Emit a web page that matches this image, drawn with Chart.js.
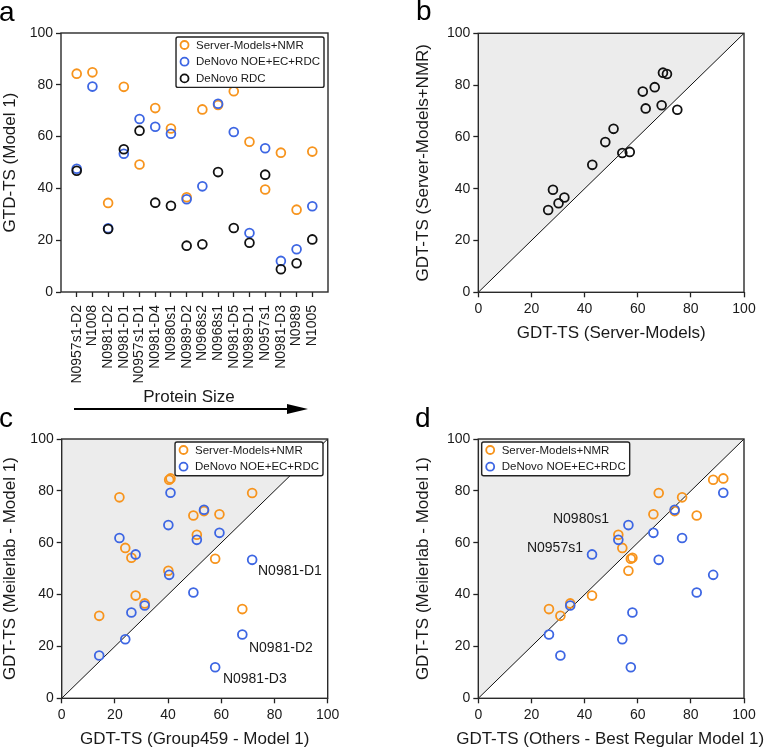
<!DOCTYPE html>
<html>
<head>
<meta charset="utf-8">
<script src="https://cdn.jsdelivr.net/npm/chart.js@4.4.0/dist/chart.umd.min.js"></script>
<style>
html, body { margin: 0; padding: 0; background: #fff; }
body { width: 767px; height: 750px; position: relative; overflow: hidden; }
canvas { position: absolute; }
</style>
</head>
<body>
<canvas id="pa"></canvas>
<canvas id="pb"></canvas>
<canvas id="pc"></canvas>
<canvas id="pd"></canvas>
<script>
// targets, ordered by protein size
const proteins = ['N0957s1-D2', 'N1008', 'N0981-D2', 'N0981-D1', 'N0957s1-D1', 'N0981-D4', 'N0980s1', 'N0989-D2',
                  'N0968s2', 'N0968s1', 'N0981-D5', 'N0989-D1', 'N0957s1', 'N0981-D3', 'N0989', 'N1005'];
// Meilerlab model 1 GDT-TS
const serverNmr  = [84.3, 84.8, 34.4, 79.2, 49.2, 71.0, 63.1, 36.6, 70.5, 72.2, 77.5, 58.0, 39.6, 53.8, 31.8, 54.2];
const denovoFull = [47.6, 79.3, 24.6, 53.4, 66.8, 63.8, 61.1, 35.8, 40.8, 72.7, 61.8, 22.8, 55.5, 12.0, 16.5, 33.1];
const denovoRdc  = [46.8, null, 24.3, 55.1, 62.3, 34.5, 33.3, 17.9, 18.4, 46.3, 24.7, 19.0, 45.3, 8.8, 11.1, 20.3];
// comparison GDT-TS
const serverOnly = [71.0, 69.5, 30.2, 66.4, 42.9, 63.0, 50.9, 32.4, 74.9, 69.0, 61.9, 47.8, 28.1, 54.2, 26.3, 57.0];
const group459   = [40.4, 40.9, 67.9, 71.6, 40.1, 59.3, 50.8, 31.2, 49.5, 53.5, 21.7, 23.9, 27.8, 57.7, 14.1, 26.2];
const othersBest = [88.4, 92.2, 26.6, 67.9, 56.5, 65.9, 52.7, 34.6, 82.2, 73.9, 76.7, 54.2, 42.8, 57.4, 30.9, 58.0];
const gdtTicks = [0, 20, 40, 60, 80, 100];
const parity = [0, 100];

const FONT = "'Liberation Sans', Arial, Helvetica, sans-serif";
const INK = '#1a1a1a';
const ORANGE = '#f7941d', BLUE = '#3d66e3', BLACK = '#111111';
Chart.defaults.font.family = FONT;
Chart.defaults.color = INK;

function fixSize(size, horizontal) {
    return function (s) {
        if (horizontal) s.height = size; else s.width = size;
        s.paddingLeft = s.paddingRight = s.paddingTop = s.paddingBottom = 0;
    };
}

function points(label, color, xs, ys, order) {
    const data = [];
    ys.forEach((v, i) => { if (v !== null) data.push({ x: xs[i], y: v }); });
    return {
        label: label, data: data, order: order,
        borderColor: color, backgroundColor: 'rgba(0,0,0,0)',
        pointRadius: 4.4, pointHoverRadius: 4.4, pointBorderWidth: 1.8
    };
}

function diagonal() {
    return {
        type: 'line', showLine: true, order: 10,
        data: parity.map(v => ({ x: v, y: v })),
        borderColor: '#111', borderWidth: 1, backgroundColor: '#ececec',
        fill: 'end', pointRadius: 0
    };
}

const decor = {
    id: 'decor',
    afterDatasetsDraw(chart, args, o) {
        const { ctx, chartArea: a, scales } = chart;
        ctx.save();
        ctx.strokeStyle = '#2a2a2a';
        ctx.lineWidth = 1.4;
        ctx.strokeRect(a.left, a.top, a.right - a.left, a.bottom - a.top);

        ctx.font = '14px ' + FONT;
        ctx.fillStyle = INK;
        ctx.textAlign = 'left';
        ctx.textBaseline = 'middle';
        (o.notes || []).forEach(n => {
            ctx.fillText(n.text, scales.x.getPixelForValue(n.x), scales.y.getPixelForValue(n.y));
        });

        if (o.box) {
            const items = chart.data.datasets.filter(d => d.label);
            ctx.font = '11.5px ' + FONT;
            const tw = Math.max(...items.map(d => ctx.measureText(d.label).width));
            const w = 20 + tw + 4, h = 8 + 16.7 * (items.length - 1) + 9;
            const x0 = o.box.side === 'right' ? a.right + o.box.dx - w : a.left + o.box.dx;
            const y0 = a.top + o.box.dy;
            ctx.fillStyle = '#fff';
            ctx.strokeStyle = '#222';
            ctx.lineWidth = 1.4;
            ctx.beginPath();
            if (ctx.roundRect) ctx.roundRect(x0, y0, w, h, 2); else ctx.rect(x0, y0, w, h);
            ctx.fill();
            ctx.stroke();
            items.forEach((d, i) => {
                const cy = y0 + 8 + i * 16.7;
                ctx.beginPath();
                ctx.arc(x0 + 8.5, cy, 4, 0, Math.PI * 2);
                ctx.strokeStyle = d.borderColor;
                ctx.lineWidth = 1.8;
                ctx.stroke();
                ctx.fillStyle = INK;
                ctx.fillText(d.label, x0 + 20, cy + 0.5);
            });
        }
        ctx.restore();
    },
    afterDraw(chart, args, o) {
        const ctx = chart.ctx;
        const a = chart.chartArea;
        ctx.save();
        ctx.fillStyle = '#000';
        ctx.textAlign = 'left';
        ctx.textBaseline = 'alphabetic';
        if (o.letter) {
            ctx.font = '28px ' + FONT;
            ctx.fillText(o.letter.text, o.letter.x, o.letter.y);
        }
        if (o.xTitle) {
            // wide title, allowed to run past the plot edges
            ctx.font = '17px ' + FONT;
            ctx.textAlign = 'center';
            ctx.textBaseline = 'middle';
            ctx.fillStyle = INK;
            ctx.fillText(o.xTitle.text, (a.left + a.right) / 2 + o.xTitle.dx, chart.height - 10.2);
        }
        if (o.arrow) {
            const r = o.arrow;
            ctx.font = '17px ' + FONT;
            ctx.textAlign = 'center';
            ctx.textBaseline = 'middle';
            ctx.fillStyle = INK;
            ctx.fillText(r.text, (r.x1 + r.x2) / 2 - 2, r.ty);
            ctx.strokeStyle = '#000';
            ctx.lineWidth = 2.2;
            ctx.beginPath();
            ctx.moveTo(r.x1, r.y);
            ctx.lineTo(r.x2 - 18, r.y);
            ctx.stroke();
            ctx.fillStyle = '#000';
            ctx.beginPath();
            ctx.moveTo(r.x2 - 21, r.y - 5);
            ctx.lineTo(r.x2, r.y);
            ctx.lineTo(r.x2 - 21, r.y + 5);
            ctx.closePath();
            ctx.fill();
        }
        ctx.restore();
    }
};

const gridOpts = { drawOnChartArea: false, drawTicks: true, tickLength: 5, tickWidth: 1.3, tickColor: '#222' };
const tickFont = { size: 14 };

function gdtAxis(title, extra) {
    return Object.assign({
        type: 'linear', min: 0, max: 100,
        afterBuildTicks: s => { s.ticks = gdtTicks.map(v => ({ value: v })); },
        border: { display: false },
        grid: gridOpts,
        ticks: { padding: 3, font: tickFont, color: INK },
        title: { display: !!title, text: title, font: { size: 17 }, padding: 0, color: INK }
    }, extra);
}

function panel(id, g, datasets, xAxis, yTitle, deco) {
    const cv = document.getElementById(id);
    cv.width = g.w;
    cv.height = g.h;
    cv.style.left = g.x + 'px';
    cv.style.top = g.y + 'px';
    xAxis.position = 'bottom';
    xAxis.afterFit = fixSize(g.h - g.B, true);
    return new Chart(cv, {
        type: 'scatter',
        data: { datasets: datasets },
        options: {
            responsive: false,
            animation: false,
            events: [],
            layout: { autoPadding: false, padding: { left: g.padL, top: g.T, right: g.w - g.R, bottom: 0 } },
            scales: {
                x: xAxis,
                y: gdtAxis(yTitle, { position: 'left', afterFit: fixSize(g.L - g.padL, false) })
            },
            plugins: {
                legend: { display: false },
                tooltip: { enabled: false },
                filler: { drawTime: 'beforeDatasetsDraw' },
                decor: deco
            }
        },
        plugins: [decor]
    });
}

const idx = proteins.map((p, i) => i);

// a: per-target scores
panel('pa', { x: 0, y: 0, w: 380, h: 420, L: 61, T: 33, R: 328, B: 292, padL: 0 },
    [
        points('Server-Models+NMR', ORANGE, idx, serverNmr, 2),
        points('DeNovo NOE+EC+RDC', BLUE, idx, denovoFull, 1),
        points('DeNovo RDC', BLACK, idx, denovoRdc, 0)
    ],
    {
        type: 'linear', min: -1, max: proteins.length,
        afterBuildTicks: s => { s.ticks = idx.map(v => ({ value: v })); },
        border: { display: false },
        grid: gridOpts,
        ticks: { autoSkip: false, minRotation: 90, maxRotation: 90, padding: 8, font: tickFont, color: INK,
                 callback: v => proteins[v] ?? '' }
    },
    'GTD-TS (Model 1)',
    { box: { side: 'right', dx: -4, dy: 4 }, letter: { text: 'a', x: -1, y: 21 },
      arrow: { x1: 74, x2: 308, y: 409, ty: 397, text: 'Protein Size' } }
);

// b: server models vs server models + NMR
panel('pb', { x: 380, y: 0, w: 387, h: 344, L: 98.3, T: 33.3, R: 364, B: 292.3, padL: 33 },
    [
        Object.assign(points('', BLACK, serverOnly, serverNmr, 0), { label: undefined }),
        diagonal()
    ],
    gdtAxis('GDT-TS (Server-Models)'),
    'GDT-TS (Server-Models+NMR)',
    { letter: { text: 'b', x: 36, y: 20 } }
);

// c: Group459 vs Meilerlab
panel('pc', { x: 0, y: 400, w: 380, h: 350, L: 61.7, T: 39, R: 327.7, B: 298.3, padL: 0 },
    [
        points('Server-Models+NMR', ORANGE, group459, serverNmr, 2),
        points('DeNovo NOE+EC+RDC', BLUE, group459, denovoFull, 1),
        diagonal()
    ],
    gdtAxis('GDT-TS (Group459 - Model 1)'),
    'GDT-TS (Meilerlab - Model 1)',
    { box: { side: 'right', dx: -4.7, dy: 3 }, letter: { text: 'c', x: -1, y: 27 },
      notes: [
          { text: 'N0981-D1', x: 73.8, y: 49.1 },
          { text: 'N0981-D2', x: 70.4, y: 19.4 },
          { text: 'N0981-D3', x: 60.6, y: 7.5 }
      ] }
);

// d: others best regular model vs Meilerlab
panel('pd', { x: 380, y: 400, w: 387, h: 350, L: 98.3, T: 39, R: 364, B: 298.3, padL: 33 },
    [
        points('Server-Models+NMR', ORANGE, othersBest, serverNmr, 2),
        points('DeNovo NOE+EC+RDC', BLUE, othersBest, denovoFull, 1),
        diagonal()
    ],
    gdtAxis(''),
    'GDT-TS (Meilerlab - Model 1)',
    { box: { side: 'left', dx: 3.4, dy: 3 }, letter: { text: 'd', x: 35, y: 27 },
      xTitle: { text: 'GDT-TS (Others - Best Regular Model 1)', dx: -1 },
      notes: [
          { text: 'N0980s1', x: 28.1, y: 69.1 },
          { text: 'N0957s1', x: 18.3, y: 57.9 }
      ] }
);
</script>
</body>
</html>
